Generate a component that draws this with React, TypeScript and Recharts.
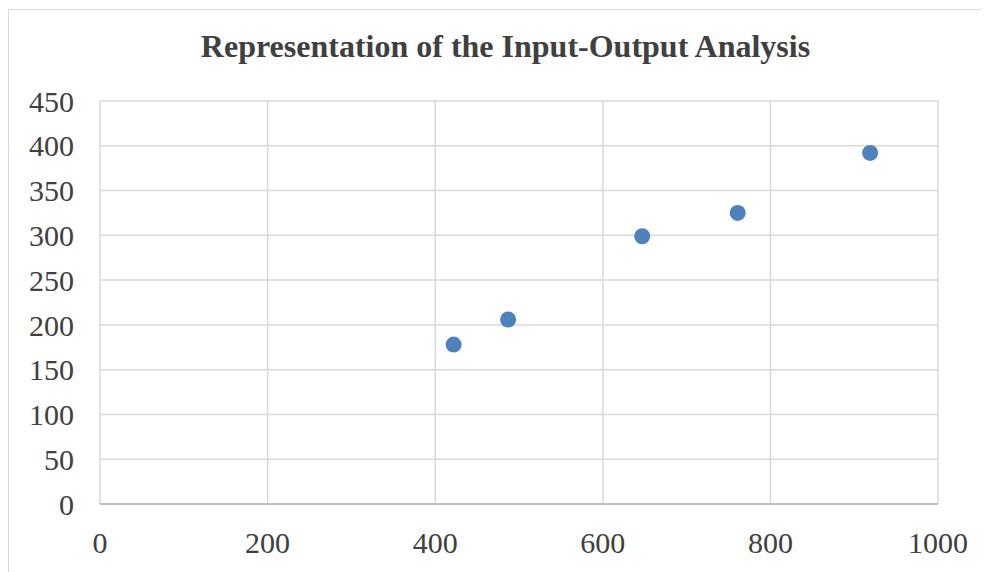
import React from "react";
import { ScatterChart, Scatter, XAxis, YAxis, CartesianGrid } from "recharts";

const inputValues = [422, 487, 647, 761, 919];
const outputValues = [178, 206, 299, 325, 392];
const xTicks = [0, 200, 400, 600, 800, 1000];
const yTicks = [0, 50, 100, 150, 200, 250, 300, 350, 400, 450];
const title = "Representation of the Input-Output Analysis";

const data = inputValues.map((x, i) => ({ x, y: outputValues[i] }));

const FONT = '"Liberation Serif", "Times New Roman", serif';

const Dot = (props: any) => {
  const { cx, cy } = props;
  return <circle cx={cx} cy={cy} r={8} fill="#4f81bd" />;
};

export default function App() {
  return (
    <div
      style={{
        position: "relative",
        marginTop: 1,
        width: 980,
        height: 580,
        border: "1px solid #d9d9d9",
        boxSizing: "border-box",
        fontFamily: FONT,
        overflow: "hidden",
      }}
    >
      <div
        style={{
          position: "absolute",
          left: 0,
          top: 18,
          width: 993,
          textAlign: "center",
          fontSize: 32,
          fontWeight: "bold",
          color: "#404040",
          fontFamily: FONT,
          whiteSpace: "nowrap",
        }}
      >
        {title}
      </div>
      <ScatterChart
        width={978}
        height={570}
        margin={{ top: 91, right: 49, left: 0, bottom: 26 }}
      >
        <CartesianGrid stroke="#d9d9d9" strokeWidth={1.5} />
        <XAxis
          type="number"
          dataKey="x"
          domain={[0, 1000]}
          ticks={xTicks}
          interval={0}
          tickLine={false}
          axisLine={{ stroke: "#bfbfbf", strokeWidth: 2 }}
          tick={{ fill: "#404040", fontSize: 30, fontFamily: FONT }}
          tickMargin={22}
          height={50}
        />
        <YAxis
          type="number"
          dataKey="y"
          domain={[0, 450]}
          ticks={yTicks}
          interval={0}
          tickLine={false}
          axisLine={false}
          tick={{ fill: "#404040", fontSize: 30, fontFamily: FONT }}
          tickMargin={20}
          width={91}
        />
        <Scatter data={data} shape={Dot} isAnimationActive={false} />
      </ScatterChart>
    </div>
  );
}
